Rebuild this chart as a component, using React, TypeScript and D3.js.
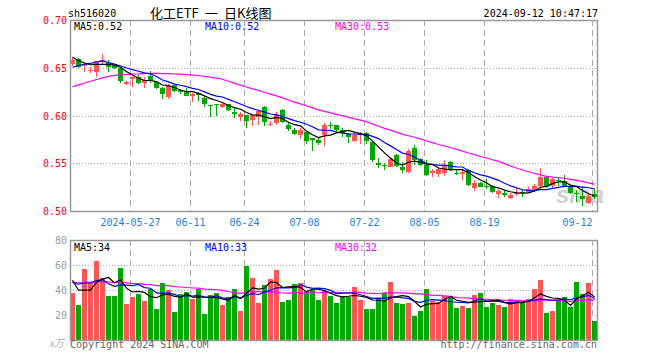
import React from 'react';
import * as d3 from 'd3';

// trading-day index of each dated grid line, and its label
const tickIndex = [10, 20, 29, 39, 49, 59, 69, 87];
const tickLabels = ['2024-05-27', '06-11', '06-24', '07-08', '07-22', '08-05', '08-19', '09-12'];

const priceTicks = [0.7, 0.65, 0.6, 0.55, 0.5];
const volTicks = [80, 60, 40, 20];

// closes before the first visible day (only used to seed the moving averages)
const priorClose = [
  0.590, 0.594, 0.592, 0.602, 0.606, 0.608, 0.615, 0.622, 0.620, 0.628,
  0.630, 0.626, 0.632, 0.629, 0.633, 0.630, 0.635, 0.632, 0.636, 0.635,
  0.634, 0.638, 0.640, 0.642, 0.646, 0.669, 0.6655, 0.657, 0.6555,
];
const priorVolume = [
  44, 48, 42, 50, 46, 45, 52, 47, 43, 49, 44, 46, 51, 45, 48, 42, 47, 44, 50, 46,
  42, 47, 44, 45, 43, 68, 56, 46, 31,
];

const open = [
  0.654, 0.659, 0.652, 0.647, 0.6452, 0.656, 0.6553, 0.6529, 0.6494, 0.6333,
  0.6379, 0.640, 0.6344, 0.6414, 0.6351, 0.6291, 0.6191, 0.6316, 0.627, 0.6249,
  0.6207, 0.6235, 0.6187, 0.611, 0.6116, 0.6089, 0.6117, 0.604, 0.5988, 0.6005,
  0.5953, 0.5988, 0.6089, 0.5897, 0.5918, 0.6058, 0.590, 0.5848, 0.5796, 0.5827,
  0.5761, 0.5743, 0.5799, 0.5897, 0.590, 0.5848, 0.5803, 0.5736, 0.5805, 0.5813,
  0.5726, 0.5506, 0.5482, 0.5464, 0.5586, 0.5464, 0.5412, 0.5657, 0.5541, 0.5482,
  0.5401, 0.5387, 0.5401, 0.5516, 0.5401, 0.5384, 0.5429, 0.5238, 0.529, 0.5262,
  0.5262, 0.5178, 0.519, 0.5133, 0.5182, 0.5199, 0.5192, 0.522, 0.5262, 0.5352,
  0.5262, 0.5327, 0.5318, 0.5248, 0.5192, 0.5157, 0.5087, 0.5178,
];
const close = [
  0.658, 0.651, 0.6535, 0.6476, 0.6571, 0.6581, 0.6511, 0.6497, 0.6365, 0.6351,
  0.640, 0.6344, 0.6372, 0.6365, 0.6291, 0.6225, 0.6309, 0.626, 0.6248, 0.6207,
  0.6228, 0.6218, 0.6124, 0.6105, 0.6112, 0.6124, 0.6061, 0.6012, 0.6016, 0.5942,
  0.6002, 0.6047, 0.5935, 0.5907, 0.6012, 0.5935, 0.5859, 0.5806, 0.5848, 0.5736,
  0.5745, 0.5709, 0.5897, 0.5888, 0.5848, 0.5813, 0.5778, 0.5799, 0.581, 0.5736,
  0.5534, 0.5482, 0.5478, 0.5541, 0.5474, 0.5429, 0.5631, 0.5534, 0.5482, 0.5377,
  0.5422, 0.5436, 0.5482, 0.5436, 0.5396, 0.5412, 0.5272, 0.529, 0.5255, 0.5255,
  0.5202, 0.5213, 0.5168, 0.5168, 0.5196, 0.5194, 0.5227, 0.5262, 0.5359, 0.5255,
  0.5332, 0.5322, 0.5262, 0.5185, 0.5178, 0.5122, 0.5157, 0.5143,
];
const high = [
  0.660, 0.660, 0.6546, 0.651, 0.6575, 0.6644, 0.6581, 0.654, 0.6497, 0.6365,
  0.6414, 0.6425, 0.640, 0.6463, 0.636, 0.630, 0.6326, 0.632, 0.628, 0.6285,
  0.6235, 0.625, 0.620, 0.6112, 0.6118, 0.6145, 0.612, 0.608, 0.604, 0.601,
  0.601, 0.6055, 0.6095, 0.5946, 0.6033, 0.6065, 0.5925, 0.5865, 0.5865, 0.5835,
  0.5762, 0.577, 0.5918, 0.5932, 0.5905, 0.5865, 0.5813, 0.582, 0.583, 0.583,
  0.5735, 0.5552, 0.5506, 0.556, 0.5595, 0.5516, 0.5646, 0.5691, 0.5555, 0.5534,
  0.5436, 0.5457, 0.5534, 0.5527, 0.5425, 0.5436, 0.5436, 0.5324, 0.5307, 0.5332,
  0.5272, 0.5227, 0.5217, 0.5185, 0.5245, 0.5217, 0.5248, 0.528, 0.5447, 0.5355,
  0.5352, 0.5352, 0.5377, 0.5272, 0.5217, 0.5248, 0.5185, 0.5227,
];
const low = [
  0.652, 0.650, 0.6452, 0.6442, 0.6406, 0.653, 0.6459, 0.6485, 0.6344, 0.632,
  0.6302, 0.633, 0.6291, 0.6344, 0.6274, 0.6176, 0.6176, 0.6243, 0.623, 0.620,
  0.6145, 0.615, 0.6092, 0.5988, 0.5995, 0.6075, 0.6047, 0.5977, 0.5942, 0.5872,
  0.5893, 0.590, 0.5893, 0.5886, 0.5905, 0.5925, 0.5835, 0.5796, 0.575, 0.5702,
  0.5631, 0.5695, 0.5681, 0.5855, 0.5813, 0.5775, 0.5716, 0.5725, 0.5705, 0.5702,
  0.5516, 0.5447, 0.5433, 0.5457, 0.5464, 0.5395, 0.5401, 0.5482, 0.547, 0.5366,
  0.5359, 0.5359, 0.5369, 0.5422, 0.5376, 0.5324, 0.5262, 0.5213, 0.5248, 0.5227,
  0.5185, 0.5133, 0.5143, 0.5122, 0.5157, 0.5148, 0.5185, 0.5203, 0.522, 0.5245,
  0.5238, 0.5262, 0.5255, 0.5178, 0.5098, 0.5052, 0.5075, 0.5125,
];
// volume, 万手
const volume = [
  37.9, 28.3, 56.5, 45.9, 62.9, 49.9, 34.9, 35.5, 57.9, 29.1,
  34.7, 37.1, 31.5, 40.8, 25.1, 45.9, 40.2, 22.7, 37.1, 38.7,
  33.1, 41.1, 21.1, 36.3, 37.9, 28.3, 34.7, 41.1, 23.5, 59.5,
  49.9, 29.9, 44.2, 49.1, 56.2, 30.7, 32.3, 45.1, 45.9, 39.5,
  40.2, 32.3, 39.5, 35.5, 29.9, 35.5, 34.7, 42.7, 32.3, 25.1,
  25.1, 33.9, 37.9, 46.7, 29.9, 29.1, 29.9, 19.5, 23.5, 41.1,
  31.5, 30.5, 35.5, 35.5, 25.9, 27.5, 25.9, 36.3, 37.9, 26.7,
  29.9, 28.3, 26.7, 33.1, 31.5, 29.9, 33.1, 41.1, 48.3, 21.9,
  23.5, 31.5, 34.7, 26.7, 46.7, 37.1, 45.9, 15.5,
];

const RED = '#ff5555';
const GREEN = '#00a800';
const MONO = '"DejaVu Sans Mono", monospace';

const L = 70, R = 598;
const PT = 20, PB = 211;
const VT = 240, VB = 340;

function movingAvg(prior: number[], data: number[], n: number) {
  const all = prior.concat(data);
  return data.map((_, i) => d3.mean(all.slice(prior.length + i - n + 1, prior.length + i + 1)) as number);
}

const MAS = [
  { n: 5, color: '#000000', lx: 74 },
  { n: 10, color: '#0000ff', lx: 205 },
  { n: 30, color: '#ff00ff', lx: 335 },
];

export default function App() {
  const n = close.length;
  const x = d3.scaleLinear().domain([0, n]).range([L, R]);
  const yP = d3.scaleLinear().domain([0.5, 0.7]).range([PB, PT]);
  const yV = d3.scaleLinear().domain([0, 80]).range([VB, VT]);
  const cx = (i: number) => Math.round(x(i)) + 2.5;

  const priceMA = MAS.map(m => movingAvg(priorClose, close, m.n));
  const volMA = MAS.map(m => movingAvg(priorVolume, volume, m.n));
  const pLine = d3.line<number>().x((_, i) => cx(i)).y(d => yP(d));
  const vLine = d3.line<number>().x((_, i) => cx(i)).y(d => yV(d));

  const up = (i: number) => close[i] >= open[i];

  return (
    <svg width={660} height={360} style={{ position: 'absolute', left: 0, top: 0, background: '#fff' }}
      fontFamily={MONO} fontSize={10}>
      {/* header */}
      <text x={68} y={17}>sh516020</text>
      <text x={150} y={18} fontSize={13} fontFamily='"Noto Sans CJK SC", sans-serif'>
        <tspan>化工ETF</tspan>
        <tspan x={205}>一</tspan>
        <tspan x={224}>日K线图</tspan>
      </text>
      <text x={598} y={17} textAnchor="end">2024-09-12 10:47:17</text>

      {/* grid */}
      {priceTicks.slice(1, -1).map(t => (
        <line key={t} x1={L} x2={R} y1={Math.round(yP(t)) + 0.5} y2={Math.round(yP(t)) + 0.5}
          stroke="#aaa" strokeDasharray="1,2" />
      ))}
      {volTicks.slice(1).map(t => (
        <line key={t} x1={L} x2={R} y1={Math.round(yV(t)) + 0.5} y2={Math.round(yV(t)) + 0.5}
          stroke="#aaa" strokeDasharray="1,2" />
      ))}
      {tickIndex.map(ti => (
        <g key={ti}>
          <line x1={Math.round(x(ti)) + 0.5} x2={Math.round(x(ti)) + 0.5} y1={PT} y2={PB}
            stroke="#aaa" strokeDasharray="6,4" />
          <line x1={Math.round(x(ti)) + 0.5} x2={Math.round(x(ti)) + 0.5} y1={VT} y2={VB}
            stroke="#aaa" strokeDasharray="6,4" />
        </g>
      ))}

      {/* watermark */}
      <text x={556} y={203} fontFamily="Liberation Sans, sans-serif" fontSize={24} fontWeight="bold"
        fontStyle="italic" fill="#d0d0d0">sina</text>

      {/* candles and volume bars */}
      <g shapeRendering="crispEdges">
        {close.map((c, i) => {
          const col = up(i) ? RED : GREEN;
          const top = Math.round(yP(Math.max(open[i], c)));
          const bot = Math.round(yP(Math.min(open[i], c)));
          return (
            <g key={i}>
              <line x1={cx(i)} x2={cx(i)} y1={yP(high[i])} y2={yP(low[i])} stroke={col} />
              <rect x={Math.round(x(i))} y={top} width={5} height={Math.max(1, bot - top)} fill={col} />
            </g>
          );
        })}
        {volume.map((v, i) => (
          <rect key={i} x={Math.round(x(i))} y={Math.round(yV(v))} width={5}
            height={VB - Math.round(yV(v))} fill={up(i) ? RED : GREEN} />
        ))}
      </g>

      {/* moving averages */}
      {MAS.slice().reverse().map((m, k) => {
        const j = MAS.length - 1 - k;
        return (
          <g key={m.n}>
            <path d={pLine(priceMA[j]) || ''} fill="none" stroke={m.color} strokeWidth={1.2} />
            <path d={vLine(volMA[j]) || ''} fill="none" stroke={m.color} strokeWidth={1.2} />
          </g>
        );
      })}

      {/* frames */}
      <rect x={L + 0.5} y={PT + 0.5} width={R - L - 1} height={PB - PT} fill="none" stroke="#999" strokeWidth={1.5} />
      <rect x={L + 0.5} y={VT + 0.5} width={R - L - 1} height={VB - VT} fill="none" stroke="#999" strokeWidth={1.5} />

      {/* MA legends */}
      {MAS.map((m, j) => (
        <g key={m.n} fill={m.color}>
          <text x={m.lx} y={30}>{`MA${m.n}:${priceMA[j][n - 1].toFixed(2)}`}</text>
          <text x={m.lx} y={251}>{`MA${m.n}:${Math.round(volMA[j][n - 1])}`}</text>
        </g>
      ))}

      {/* axes */}
      {priceTicks.map(t => (
        <text key={t} x={67} y={yP(t) + 4} textAnchor="end" fill="#ff0000">{t.toFixed(2)}</text>
      ))}
      {volTicks.map(t => (
        <text key={t} x={67} y={yV(t) + 4} textAnchor="end" fill="#999">{t}</text>
      ))}
      <text x={64} y={347} textAnchor="end" fill="#aaa" fontSize={10} fontStyle="italic"
        fontFamily='"Noto Sans CJK SC", sans-serif'>x万</text>
      {tickIndex.map((ti, k) => (
        <text key={ti} x={Math.round(x(ti)) + 0.5} y={226} fill="#1f7fe0"
          textAnchor={k === tickIndex.length - 1 ? 'end' : 'middle'}>{tickLabels[k]}</text>
      ))}

      {/* footer */}
      <text x={70} y={348} fill="#666">Copyright 2024 SINA.COM</text>
      <text x={597} y={348} fill="#666" textAnchor="end">http://finance.sina.com.cn</text>
    </svg>
  );
}
